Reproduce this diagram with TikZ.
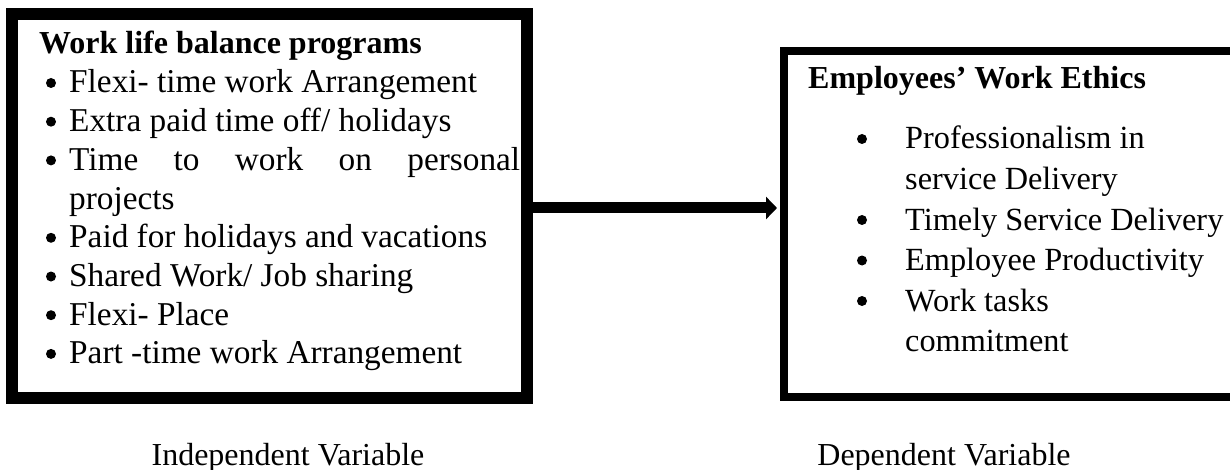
\documentclass[tikz,border=0pt]{standalone}
\usepackage{fontspec}
\setmainfont{Liberation Serif}
\usetikzlibrary{arrows.meta}
\begin{document}
\begin{tikzpicture}[x=1pt,y=-1pt,
  heading/.style={anchor=base west, inner sep=0pt, font=\fontsize{32}{38}\selectfont\bfseries},
  item/.style={anchor=base west, inner sep=0pt, font=\fontsize{33.3}{39}\selectfont},
  ritem/.style={anchor=base west, inner sep=0pt, font=\fontsize{32.3}{39}\selectfont},
  dot/.style={circle, fill=black, inner sep=0pt, minimum size=10pt, yshift=10pt},
  caption/.style={anchor=base, inner sep=0pt, font=\fontsize{32}{38}\selectfont},
  frame/.style={draw=black, fill=white, anchor=north west, inner sep=0pt}]
\useasboundingbox (0,0) rectangle (1230,470);
% boxes
\node[frame, line width=12pt, minimum width=515pt, minimum height=384pt] (lbox) at (6,8) {};
\node[frame, line width=8pt, minimum width=470pt, minimum height=346pt] (rbox) at (780,47) {};
% arrow
\coordinate (ay) at (650,208);
\draw[line width=11pt, -{Triangle[length=11pt,width=22pt]}] (lbox.east |- ay) -- ([xshift=-3pt]rbox.west |- ay);
% left box text
\node[heading] (lt) at (39,54) {Work life balance programs};
\node[dot] (lb1) at (51,93) {};
\node[item] (l1) at (69,93) {Flexi- time work Arrangement};
\node[dot] (lb2) at (51,131.7) {};
\node[item] (l2) at (69,131.7) {Extra paid time off/ holidays};
\node[dot] (lb3) at (51,170.4) {};
\node[item] (l3) at (69,170.4) {\makebox[451pt][s]{Time to work on personal}};
\node[item] (l3b) at (69,209.1) {projects};
\node[dot] (lb4) at (51,247.8) {};
\node[item] (l4) at (69,247.8) {Paid for holidays and vacations};
\node[dot] (lb5) at (51,286.5) {};
\node[item] (l5) at (69,286.5) {Shared Work/ Job sharing};
\node[dot] (lb6) at (51,325.2) {};
\node[item] (l6) at (69,325.2) {Flexi- Place};
\node[dot] (lb7) at (51,363.9) {};
\node[item] (l7) at (69,363.9) {Part -time work Arrangement};
% right box text
\node[heading] (rt) at (808,89) {Employees’ Work Ethics};
\node[dot] (rb1) at (862,149) {};
\node[ritem] (r1) at (905,149) {Professionalism in};
\node[ritem] (r1b) at (905,189.5) {service Delivery};
\node[dot] (rb2) at (862,230) {};
\node[ritem] (r2) at (905,230) {Timely Service Delivery};
\node[dot] (rb3) at (862,270.5) {};
\node[ritem] (r3) at (905,270.5) {Employee Productivity};
\node[dot] (rb4) at (862,311) {};
\node[ritem] (r4) at (905,311) {Work tasks};
\node[ritem] (r4b) at (905,351.5) {commitment};
% captions
\node[caption] (cap1) at (288,465) {Independent Variable};
\node[caption] (cap2) at (944,465) {Dependent Variable};
\end{tikzpicture}
\end{document}
